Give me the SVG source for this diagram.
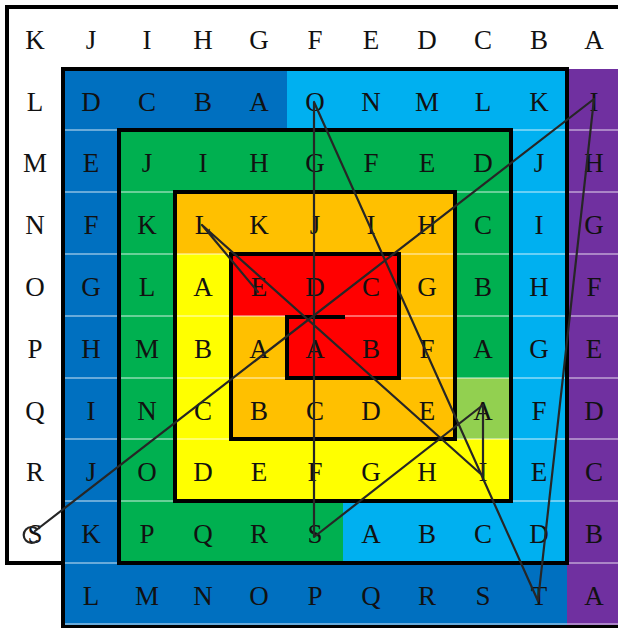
<svg xmlns="http://www.w3.org/2000/svg" width="618" height="628" viewBox="0 0 618 628">
<style>
.w{fill:#ffffff}.db{fill:#0070C0}.lb{fill:#00B0F0}.pu{fill:#7030A0}.gr{fill:#00B050}.lg{fill:#92D050}.or{fill:#FFC000}.ye{fill:#FFFF00}.rd{fill:#FF0000}
text{font-family:"Liberation Serif","Times New Roman",serif;font-size:27px;fill:#111;text-anchor:middle}
.sep{stroke:#ffffff;stroke-opacity:0.55;stroke-width:1.5;fill:none}
.frame{stroke:#000;stroke-width:4;fill:none;stroke-linejoin:miter;stroke-linecap:square}
.conn{stroke:#262626;stroke-width:2.2;fill:none;stroke-linejoin:round;stroke-linecap:round}
</style>
<rect x="0" y="0" width="618" height="628" fill="#fff"/>
<g id="cells">
<!-- Row 0 -->
<g id="r0c0"><rect class="w" x="7" y="7" width="56" height="62"/><text x="35" y="49">K</text></g>
<g id="r0c1"><rect class="w" x="63" y="7" width="56" height="62"/><text x="91" y="49">J</text></g>
<g id="r0c2"><rect class="w" x="119" y="7" width="56" height="62"/><text x="147" y="49">I</text></g>
<g id="r0c3"><rect class="w" x="175" y="7" width="56" height="62"/><text x="203" y="49">H</text></g>
<g id="r0c4"><rect class="w" x="231" y="7" width="56" height="62"/><text x="259" y="49">G</text></g>
<g id="r0c5"><rect class="w" x="287" y="7" width="56" height="62"/><text x="315" y="49">F</text></g>
<g id="r0c6"><rect class="w" x="343" y="7" width="56" height="62"/><text x="371" y="49">E</text></g>
<g id="r0c7"><rect class="w" x="399" y="7" width="56" height="62"/><text x="427" y="49">D</text></g>
<g id="r0c8"><rect class="w" x="455" y="7" width="56" height="62"/><text x="483" y="49">C</text></g>
<g id="r0c9"><rect class="w" x="511" y="7" width="56" height="62"/><text x="539" y="49">B</text></g>
<g id="r0c10"><rect class="w" x="567" y="7" width="51" height="62"/><text x="594" y="49">A</text></g>
<!-- Row 1 -->
<g id="r1c0"><rect class="w" x="7" y="69" width="56" height="61"/><text x="35" y="110.5">L</text></g>
<g id="r1c1"><rect class="db" x="63" y="69" width="56" height="61"/><text x="91" y="110.5">D</text></g>
<g id="r1c2"><rect class="db" x="119" y="69" width="56" height="61"/><text x="147" y="110.5">C</text></g>
<g id="r1c3"><rect class="db" x="175" y="69" width="56" height="61"/><text x="203" y="110.5">B</text></g>
<g id="r1c4"><rect class="db" x="231" y="69" width="56" height="61"/><text x="259" y="110.5">A</text></g>
<g id="r1c5"><rect class="lb" x="287" y="69" width="56" height="61"/><text x="315" y="110.5">O</text></g>
<g id="r1c6"><rect class="lb" x="343" y="69" width="56" height="61"/><text x="371" y="110.5">N</text></g>
<g id="r1c7"><rect class="lb" x="399" y="69" width="56" height="61"/><text x="427" y="110.5">M</text></g>
<g id="r1c8"><rect class="lb" x="455" y="69" width="56" height="61"/><text x="483" y="110.5">L</text></g>
<g id="r1c9"><rect class="lb" x="511" y="69" width="56" height="61"/><text x="539" y="110.5">K</text></g>
<g id="r1c10"><rect class="pu" x="567" y="69" width="51" height="61"/><text x="594" y="110.5">I</text></g>
<!-- Row 2 -->
<g id="r2c0"><rect class="w" x="7" y="130" width="56" height="62"/><text x="35" y="172">M</text></g>
<g id="r2c1"><rect class="db" x="63" y="130" width="56" height="62"/><text x="91" y="172">E</text></g>
<g id="r2c2"><rect class="gr" x="119" y="130" width="56" height="62"/><text x="147" y="172">J</text></g>
<g id="r2c3"><rect class="gr" x="175" y="130" width="56" height="62"/><text x="203" y="172">I</text></g>
<g id="r2c4"><rect class="gr" x="231" y="130" width="56" height="62"/><text x="259" y="172">H</text></g>
<g id="r2c5"><rect class="gr" x="287" y="130" width="56" height="62"/><text x="315" y="172">G</text></g>
<g id="r2c6"><rect class="gr" x="343" y="130" width="56" height="62"/><text x="371" y="172">F</text></g>
<g id="r2c7"><rect class="gr" x="399" y="130" width="56" height="62"/><text x="427" y="172">E</text></g>
<g id="r2c8"><rect class="gr" x="455" y="130" width="56" height="62"/><text x="483" y="172">D</text></g>
<g id="r2c9"><rect class="lb" x="511" y="130" width="56" height="62"/><text x="539" y="172">J</text></g>
<g id="r2c10"><rect class="pu" x="567" y="130" width="51" height="62"/><text x="594" y="172">H</text></g>
<!-- Row 3 -->
<g id="r3c0"><rect class="w" x="7" y="192" width="56" height="62"/><text x="35" y="234">N</text></g>
<g id="r3c1"><rect class="db" x="63" y="192" width="56" height="62"/><text x="91" y="234">F</text></g>
<g id="r3c2"><rect class="gr" x="119" y="192" width="56" height="62"/><text x="147" y="234">K</text></g>
<g id="r3c3"><rect class="or" x="175" y="192" width="56" height="62"/><text x="203" y="234">L</text></g>
<g id="r3c4"><rect class="or" x="231" y="192" width="56" height="62"/><text x="259" y="234">K</text></g>
<g id="r3c5"><rect class="or" x="287" y="192" width="56" height="62"/><text x="315" y="234">J</text></g>
<g id="r3c6"><rect class="or" x="343" y="192" width="56" height="62"/><text x="371" y="234">I</text></g>
<g id="r3c7"><rect class="or" x="399" y="192" width="56" height="62"/><text x="427" y="234">H</text></g>
<g id="r3c8"><rect class="gr" x="455" y="192" width="56" height="62"/><text x="483" y="234">C</text></g>
<g id="r3c9"><rect class="lb" x="511" y="192" width="56" height="62"/><text x="539" y="234">I</text></g>
<g id="r3c10"><rect class="pu" x="567" y="192" width="51" height="62"/><text x="594" y="234">G</text></g>
<!-- Row 4 -->
<g id="r4c0"><rect class="w" x="7" y="254" width="56" height="62"/><text x="35" y="296">O</text></g>
<g id="r4c1"><rect class="db" x="63" y="254" width="56" height="62"/><text x="91" y="296">G</text></g>
<g id="r4c2"><rect class="gr" x="119" y="254" width="56" height="62"/><text x="147" y="296">L</text></g>
<g id="r4c3"><rect class="ye" x="175" y="254" width="56" height="62"/><text x="203" y="296">A</text></g>
<g id="r4c4"><rect class="rd" x="231" y="254" width="56" height="62"/><text x="259" y="296">E</text></g>
<g id="r4c5"><rect class="rd" x="287" y="254" width="56" height="62"/><text x="315" y="296">D</text></g>
<g id="r4c6"><rect class="rd" x="343" y="254" width="56" height="62"/><text x="371" y="296">C</text></g>
<g id="r4c7"><rect class="or" x="399" y="254" width="56" height="62"/><text x="427" y="296">G</text></g>
<g id="r4c8"><rect class="gr" x="455" y="254" width="56" height="62"/><text x="483" y="296">B</text></g>
<g id="r4c9"><rect class="lb" x="511" y="254" width="56" height="62"/><text x="539" y="296">H</text></g>
<g id="r4c10"><rect class="pu" x="567" y="254" width="51" height="62"/><text x="594" y="296">F</text></g>
<!-- Row 5 -->
<g id="r5c0"><rect class="w" x="7" y="316" width="56" height="62"/><text x="35" y="358">P</text></g>
<g id="r5c1"><rect class="db" x="63" y="316" width="56" height="62"/><text x="91" y="358">H</text></g>
<g id="r5c2"><rect class="gr" x="119" y="316" width="56" height="62"/><text x="147" y="358">M</text></g>
<g id="r5c3"><rect class="ye" x="175" y="316" width="56" height="62"/><text x="203" y="358">B</text></g>
<g id="r5c4"><rect class="or" x="231" y="316" width="56" height="62"/><text x="259" y="358">A</text></g>
<g id="r5c5"><rect class="rd" x="287" y="316" width="56" height="62"/><text x="315" y="358">A</text></g>
<g id="r5c6"><rect class="rd" x="343" y="316" width="56" height="62"/><text x="371" y="358">B</text></g>
<g id="r5c7"><rect class="or" x="399" y="316" width="56" height="62"/><text x="427" y="358">F</text></g>
<g id="r5c8"><rect class="gr" x="455" y="316" width="56" height="62"/><text x="483" y="358">A</text></g>
<g id="r5c9"><rect class="lb" x="511" y="316" width="56" height="62"/><text x="539" y="358">G</text></g>
<g id="r5c10"><rect class="pu" x="567" y="316" width="51" height="62"/><text x="594" y="358">E</text></g>
<!-- Row 6 -->
<g id="r6c0"><rect class="w" x="7" y="378" width="56" height="61"/><text x="35" y="419.5">Q</text></g>
<g id="r6c1"><rect class="db" x="63" y="378" width="56" height="61"/><text x="91" y="419.5">I</text></g>
<g id="r6c2"><rect class="gr" x="119" y="378" width="56" height="61"/><text x="147" y="419.5">N</text></g>
<g id="r6c3"><rect class="ye" x="175" y="378" width="56" height="61"/><text x="203" y="419.5">C</text></g>
<g id="r6c4"><rect class="or" x="231" y="378" width="56" height="61"/><text x="259" y="419.5">B</text></g>
<g id="r6c5"><rect class="or" x="287" y="378" width="56" height="61"/><text x="315" y="419.5">C</text></g>
<g id="r6c6"><rect class="or" x="343" y="378" width="56" height="61"/><text x="371" y="419.5">D</text></g>
<g id="r6c7"><rect class="or" x="399" y="378" width="56" height="61"/><text x="427" y="419.5">E</text></g>
<g id="r6c8"><rect class="lg" x="455" y="378" width="56" height="61"/><text x="483" y="419.5">A</text></g>
<g id="r6c9"><rect class="lb" x="511" y="378" width="56" height="61"/><text x="539" y="419.5">F</text></g>
<g id="r6c10"><rect class="pu" x="567" y="378" width="51" height="61"/><text x="594" y="419.5">D</text></g>
<!-- Row 7 -->
<g id="r7c0"><rect class="w" x="7" y="439" width="56" height="62"/><text x="35" y="481">R</text></g>
<g id="r7c1"><rect class="db" x="63" y="439" width="56" height="62"/><text x="91" y="481">J</text></g>
<g id="r7c2"><rect class="gr" x="119" y="439" width="56" height="62"/><text x="147" y="481">O</text></g>
<g id="r7c3"><rect class="ye" x="175" y="439" width="56" height="62"/><text x="203" y="481">D</text></g>
<g id="r7c4"><rect class="ye" x="231" y="439" width="56" height="62"/><text x="259" y="481">E</text></g>
<g id="r7c5"><rect class="ye" x="287" y="439" width="56" height="62"/><text x="315" y="481">F</text></g>
<g id="r7c6"><rect class="ye" x="343" y="439" width="56" height="62"/><text x="371" y="481">G</text></g>
<g id="r7c7"><rect class="ye" x="399" y="439" width="56" height="62"/><text x="427" y="481">H</text></g>
<g id="r7c8"><rect class="ye" x="455" y="439" width="56" height="62"/><text x="483" y="481">I</text></g>
<g id="r7c9"><rect class="lb" x="511" y="439" width="56" height="62"/><text x="539" y="481">E</text></g>
<g id="r7c10"><rect class="pu" x="567" y="439" width="51" height="62"/><text x="594" y="481">C</text></g>
<!-- Row 8 -->
<g id="r8c0"><rect class="w" x="7" y="501" width="56" height="62"/><text x="35" y="543">S</text></g>
<g id="r8c1"><rect class="db" x="63" y="501" width="56" height="62"/><text x="91" y="543">K</text></g>
<g id="r8c2"><rect class="gr" x="119" y="501" width="56" height="62"/><text x="147" y="543">P</text></g>
<g id="r8c3"><rect class="gr" x="175" y="501" width="56" height="62"/><text x="203" y="543">Q</text></g>
<g id="r8c4"><rect class="gr" x="231" y="501" width="56" height="62"/><text x="259" y="543">R</text></g>
<g id="r8c5"><rect class="gr" x="287" y="501" width="56" height="62"/><text x="315" y="543">S</text></g>
<g id="r8c6"><rect class="lb" x="343" y="501" width="56" height="62"/><text x="371" y="543">A</text></g>
<g id="r8c7"><rect class="lb" x="399" y="501" width="56" height="62"/><text x="427" y="543">B</text></g>
<g id="r8c8"><rect class="lb" x="455" y="501" width="56" height="62"/><text x="483" y="543">C</text></g>
<g id="r8c9"><rect class="lb" x="511" y="501" width="56" height="62"/><text x="539" y="543">D</text></g>
<g id="r8c10"><rect class="pu" x="567" y="501" width="51" height="62"/><text x="594" y="543">B</text></g>
<!-- Row 9 -->
<g id="r9c1"><rect class="db" x="63" y="563" width="56" height="65"/><text x="91" y="605">L</text></g>
<g id="r9c2"><rect class="db" x="119" y="563" width="56" height="65"/><text x="147" y="605">M</text></g>
<g id="r9c3"><rect class="db" x="175" y="563" width="56" height="65"/><text x="203" y="605">N</text></g>
<g id="r9c4"><rect class="db" x="231" y="563" width="56" height="65"/><text x="259" y="605">O</text></g>
<g id="r9c5"><rect class="db" x="287" y="563" width="56" height="65"/><text x="315" y="605">P</text></g>
<g id="r9c6"><rect class="db" x="343" y="563" width="56" height="65"/><text x="371" y="605">Q</text></g>
<g id="r9c7"><rect class="db" x="399" y="563" width="56" height="65"/><text x="427" y="605">R</text></g>
<g id="r9c8"><rect class="db" x="455" y="563" width="56" height="65"/><text x="483" y="605">S</text></g>
<g id="r9c9"><rect class="db" x="511" y="563" width="56" height="65"/><text x="539" y="605">T</text></g>
<g id="r9c10"><rect class="pu" x="567" y="563" width="51" height="65"/><text x="594" y="605">A</text></g>
</g>
<g id="separators" class="sep">
<path d="M63,130H618M63,192H618M63,254H618M63,316H618M63,378H618M63,439H618M63,501H618M63,563H618M63,624H618"/>
</g>
<g id="frame" class="frame">
<path d="M343,317H287V378H399V254H231V439H455V192H175V501H511V130H119V563H567V69H63V627H618"/>
<path d="M63,563H7V7H618"/>
</g>
<g id="connectors" class="conn">
<path d="M35,531L594,99L538,601L314,102L314,537L483,405L483,476L202,225L258,292"/>
<path d="M37,529A8,8 0 1 0 37,541"/>
</g>
</svg>
